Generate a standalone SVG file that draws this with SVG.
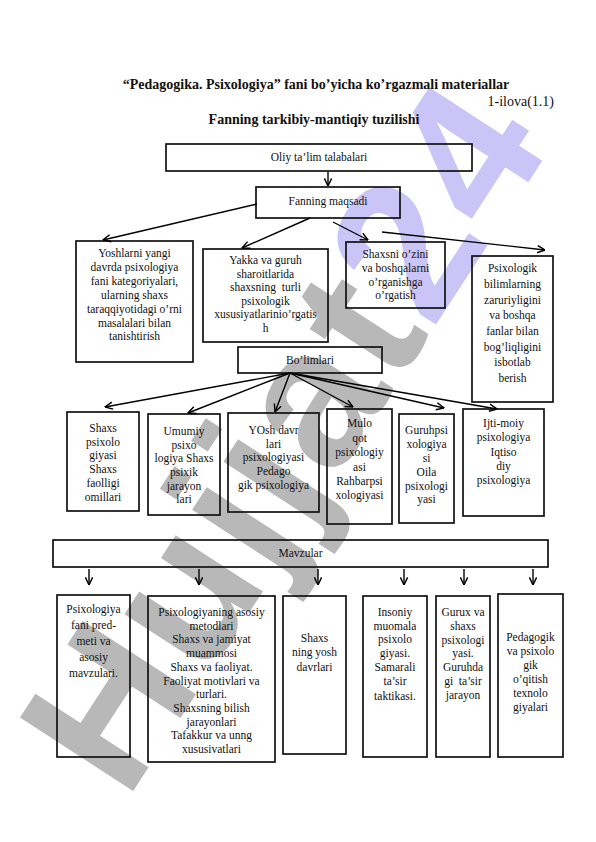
<svg xmlns="http://www.w3.org/2000/svg" width="596" height="842" viewBox="0 0 596 842">
<defs>
<marker id="ah" viewBox="0 0 10 10" refX="9.5" refY="5" markerWidth="9" markerHeight="9" markerUnits="userSpaceOnUse" orient="auto">
<path d="M1,1 L9.5,5 L1,9" fill="none" stroke="#000" stroke-width="1.6"/>
</marker>
</defs>
<style>
text{font-family:"Liberation Serif","Times New Roman",serif;fill:#111}
.t{font-size:11.5px;text-anchor:middle}
.h{font-size:14px;font-weight:bold;text-anchor:middle}
.b{fill:none;stroke:#111;stroke-width:1.7}
.c line{stroke:#000;stroke-width:1.4;marker-end:url(#ah)}
.wm{font-family:"Liberation Sans",Arial,sans-serif;font-weight:bold;font-size:196px;letter-spacing:3px}
</style>
<rect width="596" height="842" fill="#fff"/>
<g id="watermark" transform="translate(126,802) rotate(-57)">
<text class="wm" x="0" y="0"><tspan fill="#b8b8b8">Hujjat</tspan><tspan fill="#cbc4f7">24</tspan></text>
</g>
<g id="header">
<text class="h" x="316" y="89">“Pedagogika. Psixologiya” fani bo’yicha ko’rgazmali materiallar</text>
<text x="554" y="106" style="font-size:14px;text-anchor:end">1-ilova(1.1)</text>
<text class="h" x="314" y="124">Fanning tarkibiy-mantiqiy tuzilishi</text>
</g>
<g id="n-oliy"><rect class="b" x="166" y="144" width="306" height="27"/><text class="t" x="319" y="161">Oliy ta’lim talabalari</text></g>
<g id="n-maqsad"><rect class="b" x="256" y="187" width="144" height="31"/><text class="t" x="328" y="205">Fanning maqsadi</text></g>
<g id="n-yoshlar"><rect class="b" x="76" y="241" width="117" height="121"/>
<text class="t" x="134.5" y="257">Yoshlarni yangi</text>
<text class="t" x="134.5" y="271">davrda psixologiya</text>
<text class="t" x="134.5" y="285">fani kategoriyalari,</text>
<text class="t" x="134.5" y="299">ularning shaxs</text>
<text class="t" x="134.5" y="313">taraqqiyotidagi o’rni</text>
<text class="t" x="134.5" y="327">masalalari bilan</text>
<text class="t" x="134.5" y="340">tanishtirish</text></g>
<g id="n-yakka"><rect class="b" x="203" y="249" width="125" height="93"/>
<text class="t" x="265.5" y="264">Yakka va guruh</text>
<text class="t" x="265.5" y="277.5">sharoitlarida</text>
<text class="t" x="265.5" y="291" xml:space="preserve">shaxsning  turli</text>
<text class="t" x="265.5" y="304.5">psixologik</text>
<text class="t" x="265.5" y="318">xususiyatlarinio’rgatis</text>
<text class="t" x="265.5" y="331.5">h</text></g>
<g id="n-shaxsni"><rect class="b" x="346" y="242" width="99" height="66"/>
<text class="t" x="395.5" y="258">Shaxsni o’zini</text>
<text class="t" x="395.5" y="272">va boshqalarni</text>
<text class="t" x="395.5" y="285.5">o’rganishga</text>
<text class="t" x="395.5" y="299">o’rgatish</text></g>
<g id="n-psixologik"><rect class="b" x="472" y="256" width="81" height="146"/>
<text class="t" x="512.5" y="272">Psixologik</text>
<text class="t" x="512.5" y="288">bilimlarning</text>
<text class="t" x="512.5" y="303.5">zaruriyligini</text>
<text class="t" x="512.5" y="319">va boshqa</text>
<text class="t" x="512.5" y="335">fanlar bilan</text>
<text class="t" x="512.5" y="350.5">bog’liqligini</text>
<text class="t" x="512.5" y="366">isbotlab</text>
<text class="t" x="512.5" y="382">berish</text></g>
<g id="n-bolimlari"><rect class="b" x="238" y="347" width="144" height="26"/><text class="t" x="310" y="364">Bo’limlari</text></g>
<g id="n-shaxs"><rect class="b" x="67" y="412" width="72" height="99"/>
<text class="t" x="103" y="432">Shaxs</text>
<text class="t" x="103" y="445.7">psixolo</text>
<text class="t" x="103" y="459.4">giyasi</text>
<text class="t" x="103" y="473">Shaxs</text>
<text class="t" x="103" y="487">faolligi</text>
<text class="t" x="103" y="500.5">omillari</text></g>
<g id="n-umumiy"><rect class="b" x="148" y="414" width="72" height="101"/>
<text class="t" x="184" y="435">Umumiy</text>
<text class="t" x="184" y="448.5">psixo</text>
<text class="t" x="184" y="462">logiya Shaxs</text>
<text class="t" x="184" y="476">psixik</text>
<text class="t" x="184" y="489.5">jarayon</text>
<text class="t" x="184" y="503">lari</text></g>
<g id="n-yosh"><rect class="b" x="228" y="413" width="91" height="99"/>
<text class="t" x="273.5" y="434">YOsh davr</text>
<text class="t" x="273.5" y="447.5">lari</text>
<text class="t" x="273.5" y="461">psixologiyasi</text>
<text class="t" x="273.5" y="475">Pedago</text>
<text class="t" x="273.5" y="488.5">gik psixologiya</text></g>
<g id="n-mulo"><rect class="b" x="327" y="409" width="65" height="115"/>
<text class="t" x="359.5" y="427">Mulo</text>
<text class="t" x="359.5" y="441.5">qot</text>
<text class="t" x="359.5" y="456">psixologiy</text>
<text class="t" x="359.5" y="470.5">asi</text>
<text class="t" x="359.5" y="484.5">Rahbarpsi</text>
<text class="t" x="359.5" y="498.5">xologiyasi</text></g>
<g id="n-guruhpsi"><rect class="b" x="399" y="414" width="55" height="109"/>
<text class="t" x="426.5" y="434">Guruhpsi</text>
<text class="t" x="426.5" y="448">xologiya</text>
<text class="t" x="426.5" y="462">si</text>
<text class="t" x="426.5" y="476">Oila</text>
<text class="t" x="426.5" y="489.5">psixologi</text>
<text class="t" x="426.5" y="503">yasi</text></g>
<g id="n-ijti"><rect class="b" x="463" y="409" width="81" height="107"/>
<text class="t" x="503.5" y="427">Ijti-moiy</text>
<text class="t" x="503.5" y="441">psixologiya</text>
<text class="t" x="503.5" y="455.5">Iqtiso</text>
<text class="t" x="503.5" y="470">diy</text>
<text class="t" x="503.5" y="484">psixologiya</text></g>
<g id="n-mavzular"><rect class="b" x="53" y="540" width="495" height="27"/><text class="t" x="300.5" y="557">Mavzular</text></g>
<g id="n-predmet"><rect class="b" x="57" y="595" width="73" height="162"/>
<text class="t" x="93.5" y="613">Psixologiya</text>
<text class="t" x="93.5" y="629">fani pred-</text>
<text class="t" x="93.5" y="645">meti va</text>
<text class="t" x="93.5" y="661">asosiy</text>
<text class="t" x="93.5" y="677">mavzulari.</text></g>
<g id="n-metodlar"><rect class="b" x="148" y="596" width="127" height="166"/>
<text class="t" x="211.5" y="616">Psixologiyaning asosiy</text>
<text class="t" x="211.5" y="629.7">metodlari</text>
<text class="t" x="211.5" y="643.4">Shaxs va jamiyat</text>
<text class="t" x="211.5" y="657.1">muammosi</text>
<text class="t" x="211.5" y="670.8">Shaxs va faoliyat.</text>
<text class="t" x="211.5" y="684.5">Faoliyat motivlari va</text>
<text class="t" x="211.5" y="698.2">turlari.</text>
<text class="t" x="211.5" y="711.9">Shaxsning bilish</text>
<text class="t" x="211.5" y="725.6">jarayonlari</text>
<text class="t" x="211.5" y="739.3">Tafakkur va unng</text>
<text class="t" x="211.5" y="753">xususivatlari</text></g>
<g id="n-yoshdavr"><rect class="b" x="283" y="596" width="63" height="158"/>
<text class="t" x="314.5" y="642">Shaxs</text>
<text class="t" x="314.5" y="656">ning yosh</text>
<text class="t" x="314.5" y="671">davrlari</text></g>
<g id="n-insoniy"><rect class="b" x="363" y="596" width="64" height="161"/>
<text class="t" x="395" y="616">Insoniy</text>
<text class="t" x="395" y="629.5">muomala</text>
<text class="t" x="395" y="643">psixolo</text>
<text class="t" x="395" y="657">giyasi.</text>
<text class="t" x="395" y="671">Samarali</text>
<text class="t" x="395" y="685">ta’sir</text>
<text class="t" x="395" y="699.5">taktikasi.</text></g>
<g id="n-gurux"><rect class="b" x="436" y="596" width="54" height="161"/>
<text class="t" x="463" y="616">Gurux va</text>
<text class="t" x="463" y="629.5">shaxs</text>
<text class="t" x="463" y="643.5">psixologi</text>
<text class="t" x="463" y="657">yasi.</text>
<text class="t" x="463" y="671">Guruhda</text>
<text class="t" x="463" y="685" xml:space="preserve">gi  ta’sir</text>
<text class="t" x="463" y="698.5">jarayon</text></g>
<g id="n-pedagogik"><rect class="b" x="498" y="594" width="65" height="163"/>
<text class="t" x="530.5" y="641">Pedagogik</text>
<text class="t" x="530.5" y="655">va psixolo</text>
<text class="t" x="530.5" y="669">gik</text>
<text class="t" x="530.5" y="682.5">o’qitish</text>
<text class="t" x="530.5" y="696.5">texnolo</text>
<text class="t" x="530.5" y="711">giyalari</text></g>
<g id="connectors" class="c">
<line x1="328" y1="172" x2="328" y2="186"/>
<line x1="257" y1="204" x2="103" y2="240"/>
<line x1="310" y1="218" x2="242" y2="248"/>
<line x1="333" y1="222" x2="368" y2="240"/>
<line x1="382" y1="232" x2="545" y2="250"/>
<line x1="290" y1="373" x2="105" y2="407"/>
<line x1="290" y1="373" x2="188" y2="413"/>
<line x1="290" y1="373" x2="275" y2="412"/>
<line x1="290" y1="373" x2="353" y2="407"/>
<line x1="290" y1="373" x2="444" y2="408"/>
<line x1="290" y1="373" x2="497" y2="409"/>
<line x1="89" y1="569" x2="89" y2="585"/>
<line x1="199" y1="569" x2="199" y2="585"/>
<line x1="318" y1="569" x2="318" y2="585"/>
<line x1="404" y1="569" x2="404" y2="585"/>
<line x1="464" y1="569" x2="464" y2="585"/>
<line x1="533" y1="569" x2="533" y2="585"/>
</g>
</svg>
